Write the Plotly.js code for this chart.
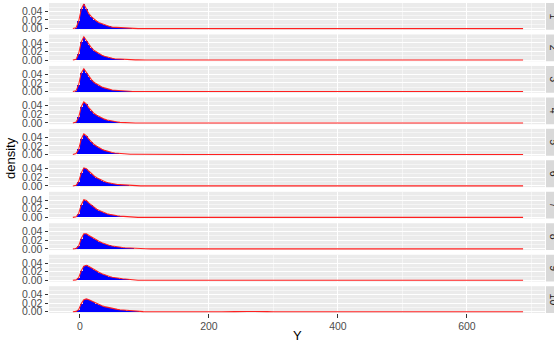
<!DOCTYPE html>
<html>
<head>
<meta charset="utf-8">
<script src="https://cdn.plot.ly/plotly-3.0.1.min.js"></script>
<style>html,body{margin:0;padding:0;background:#fff;}#chart{width:554px;height:343px;}</style>
</head>
<body>
<div id="chart"></div>
<script>
// Histogram bin centres (width 4) and density-curve tail positions
const binX = [-6,-2,2,6,10,14,18,22,26,30,34,38,42,46,50,54,58,62,66,70,74,78,82,86,90,94,98];
const tailX = [102,110,120,130,140,150,160,170,180,200,220,240,250,260,270,280,290,300,350,400,500,600,687];
const densStart = -11;
const panelLabels = ["1","2","3","4","5","6","7","8","9","10"];
const xTicks = [0,200,400,600];
const yTicks = [0,0.02,0.04];

const hist1 = [0.002,0.017,0.045,0.057,0.045,0.034,0.027,0.021,0.017,0.0135,0.011,0.0085,0.0068,0.005,0.0035,0.003,0.003,0.0028,0.0025,0.0008,0.0004,0.0003,0.0002,0.0001,0,0,0];
const hist2 = [0.002,0.015,0.042,0.054,0.045,0.035,0.028,0.022,0.018,0.014,0.011,0.009,0.007,0.0055,0.004,0.003,0.0025,0.002,0.0015,0.001,0.001,0.0008,0.0006,0.0005,0.0009,0.0002,0.0001];
const hist3 = [0.002,0.016,0.043,0.053,0.044,0.034,0.027,0.021,0.017,0.013,0.0105,0.0085,0.0065,0.005,0.0035,0.003,0.0025,0.001,0.0006,0.0004,0.0003,0.0002,0.0001,0,0,0,0];
const hist4 = [0.002,0.013,0.038,0.049,0.044,0.035,0.028,0.022,0.018,0.0145,0.0115,0.009,0.007,0.0055,0.0042,0.0032,0.0025,0.0015,0.001,0.0006,0.0004,0.0003,0.0002,0.0001,0,0,0];
const hist5 = [0.002,0.012,0.036,0.048,0.043,0.035,0.028,0.023,0.019,0.015,0.012,0.0095,0.0075,0.006,0.0045,0.0035,0.0028,0.002,0.0012,0.0008,0.0006,0.0005,0.0004,0.0003,0.0002,0.0008,0];
const hist6 = [0.0015,0.01,0.03,0.042,0.04,0.034,0.028,0.023,0.019,0.0155,0.0125,0.01,0.008,0.0065,0.0052,0.0042,0.0035,0.003,0.0025,0.002,0.001,0.0006,0.0004,0.0003,0.0002,0.0001,0];
const hist7 = [0.0015,0.009,0.029,0.041,0.039,0.033,0.028,0.023,0.019,0.016,0.013,0.0105,0.0085,0.007,0.0055,0.0045,0.0037,0.003,0.0025,0.0015,0.0008,0.0005,0.0003,0.0002,0.0001,0,0];
const hist8 = [0.001,0.007,0.024,0.035,0.035,0.031,0.027,0.023,0.02,0.017,0.014,0.0115,0.0095,0.008,0.0065,0.0052,0.0042,0.0035,0.003,0.0025,0.002,0.0015,0.001,0.0006,0.0003,0.0001,0];
const hist9 = [0.001,0.006,0.022,0.033,0.035,0.032,0.028,0.024,0.021,0.018,0.015,0.0125,0.0105,0.0088,0.0073,0.006,0.005,0.0042,0.0035,0.003,0.0022,0.0015,0.001,0.0006,0.0003,0.0001,0];
const hist10 = [0.001,0.005,0.019,0.028,0.030,0.028,0.025,0.022,0.019,0.0165,0.014,0.012,0.0105,0.009,0.0078,0.0066,0.0057,0.0049,0.0042,0.0036,0.003,0.0025,0.002,0.0015,0.001,0.0006,0.0003];

const tail1 = [0,0,0,0,0,0,0,0,0,0,0,0,0,0,0,0,0,0,0,0,0,0,0];
const tail2 = [0,0,0,0,0,0,0,0,0,0,0,0,0,0,0,0,0,0,0,0,0,0,0];
const tail3 = [0,0,0,0,0,0,0,0,0,0,0,0,0,0,0,0,0,0,0,0,0,0,0];
const tail4 = [0,0,0,0,0,0,0,0,0,0,0,0,0,0,0,0,0,0,0,0,0,0,0];
const tail5 = [0,0,0,0,0,0,0,0,0,0,0,0,0,0,0,0,0,0,0,0,0,0,0];
const tail6 = [0,0,0,0,0,0.0008,0.0003,0.0008,0,0,0,0,0,0,0,0,0,0,0,0,0,0,0];
const tail7 = [0,0,0,0,0,0,0,0,0,0,0,0,0,0,0,0,0,0,0,0,0,0,0];
const tail8 = [0.0003,0,0,0,0,0,0,0,0,0,0,0,0,0,0,0,0,0,0,0,0,0,0];
const tail9 = [0.0002,0,0,0,0,0,0,0,0,0,0,0,0,0,0,0,0,0,0,0,0,0,0];
const tail10 = [0.0002,0.0001,0,0,0,0,0,0,0,0,0,0.0005,0.0012,0.0008,0.0008,0.0012,0.0003,0,0,0,0,0,0];

const hists = [hist1,hist2,hist3,hist4,hist5,hist6,hist7,hist8,hist9,hist10];
const tails = [tail1,tail2,tail3,tail4,tail5,tail6,tail7,tail8,tail9,tail10];

const W = 554, H = 343;
const mL = 49, mR = 9, mT = 3, mB = 30;
const plotH = H - mT - mB;
const panelH = 26.8;
const step = (plotH - panelH) / 9;

const traces = [];
const layout = {
  width: W, height: H,
  margin: {l: mL, r: mR, t: mT, b: mB, pad: 0},
  paper_bgcolor: '#FFFFFF',
  plot_bgcolor: '#EBEBEB',
  showlegend: false,
  bargap: 0,
  font: {family: 'Liberation Sans, Arial, sans-serif', size: 10.5, color: '#4D4D4D'},
  shapes: [],
  annotations: []
};

for (let i = 0; i < 10; i++) {
  const k = i + 1;
  const xa = k === 1 ? 'x' : 'x' + k;
  const ya = k === 1 ? 'y' : 'y' + k;
  const topPx = i * step;
  const y1 = 1 - topPx / plotH;
  const y0 = Math.max(0, 1 - (topPx + panelH) / plotH);

  traces.push({
    type: 'bar', x: binX, y: hists[i], width: 4,
    marker: {color: '#0000FF', line: {width: 0}},
    xaxis: xa, yaxis: ya, hoverinfo: 'skip'
  });
  traces.push({
    type: 'scatter', mode: 'lines',
    x: [densStart].concat(binX, tailX),
    y: [0].concat(hists[i], tails[i]),
    line: {color: '#FF2020', width: 1.1},
    xaxis: xa, yaxis: ya, hoverinfo: 'skip'
  });

  layout[k === 1 ? 'xaxis' : 'xaxis' + k] = {
    domain: [0, 1], anchor: ya,
    range: [-48, 721],
    tickvals: xTicks, ticktext: xTicks.map(String),
    showticklabels: k === 10,
    ticks: k === 10 ? 'outside' : '',
    ticklen: 3.5, tickwidth: 1, tickcolor: '#333333',
    tickfont: {size: 10.5, color: '#4D4D4D'},
    showgrid: true, gridcolor: '#FFFFFF', gridwidth: 1,
    minor: {dtick: 100, tick0: 0, showgrid: true, gridcolor: '#FFFFFF', gridwidth: 0.5, ticks: ''},
    zeroline: false, showline: false, fixedrange: true
  };
  if (k !== 1) layout['xaxis' + k].matches = 'x';

  layout[k === 1 ? 'yaxis' : 'yaxis' + k] = {
    domain: [y0, y1], anchor: xa,
    range: [-0.0028, 0.0594],
    tickvals: yTicks, ticktext: yTicks.map(v => v.toFixed(2)),
    ticks: 'outside', ticklen: 3.5, tickwidth: 1, tickcolor: '#333333',
    tickfont: {size: 10.5, color: '#4D4D4D'},
    showgrid: true, gridcolor: '#FFFFFF', gridwidth: 1,
    minor: {dtick: 0.01, tick0: 0, showgrid: true, gridcolor: '#FFFFFF', gridwidth: 0.5, ticks: ''},
    zeroline: false, showline: false, fixedrange: true
  };

  // facet strip on the right
  layout.shapes.push({
    type: 'rect', xref: 'paper', yref: 'paper',
    x0: (546 - mL) / (W - mL - mR), x1: 1.1,
    y0: y0, y1: y1,
    fillcolor: '#D9D9D9', line: {width: 0}, layer: 'below'
  });
  layout.annotations.push({
    xref: 'paper', yref: 'paper',
    x: (554 - mL) / (W - mL - mR), y: (y0 + y1) / 2,
    xanchor: 'center', yanchor: 'middle',
    text: panelLabels[i], textangle: 90, showarrow: false,
    font: {size: 10.5, color: '#1A1A1A'}
  });
}

layout.annotations.push({
  xref: 'paper', yref: 'paper', x: 0.5, y: (H - mB - 335.5) / plotH,
  xanchor: 'center', yanchor: 'middle', text: 'Y', showarrow: false,
  font: {size: 13, color: '#000000'}
});
layout.annotations.push({
  xref: 'paper', yref: 'paper', x: (10 - mL) / (W - mL - mR), y: (H - mB - 158) / plotH,
  xanchor: 'center', yanchor: 'middle', text: 'density', textangle: -90, showarrow: false,
  font: {size: 13, color: '#000000'}
});

Plotly.newPlot('chart', traces, layout, {staticPlot: true, displayModeBar: false});
</script>
</body>
</html>
